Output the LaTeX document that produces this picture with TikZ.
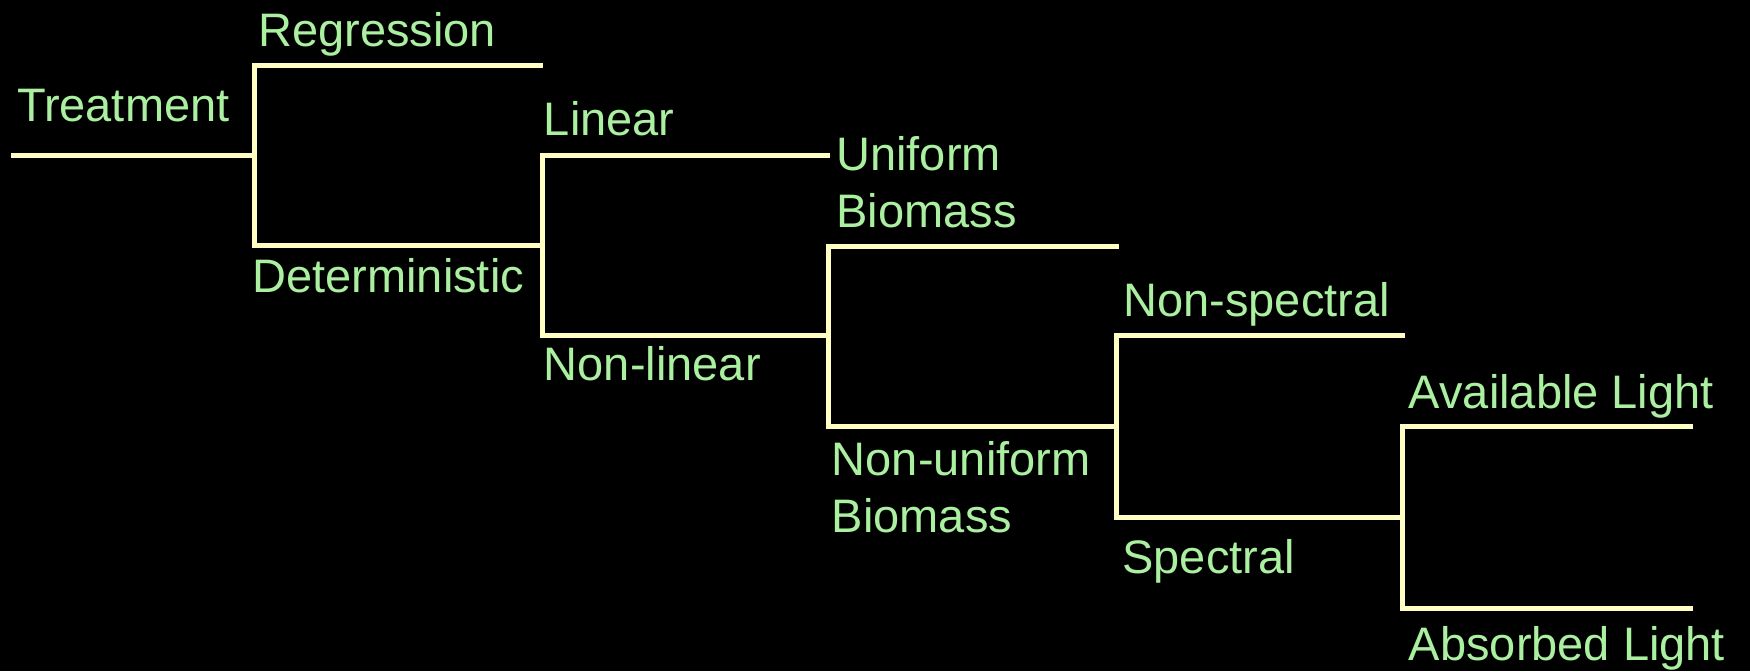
\documentclass[tikz,border=0pt]{standalone}
\usepackage{fontspec}
\setmainfont{Liberation Sans}
\definecolor{linecol}{RGB}{255,255,195}
\definecolor{txtcol}{RGB}{170,240,160}
\begin{document}
\begin{tikzpicture}[x=0.5pt,y=-0.5pt,
  branch/.style={draw=linecol,line width=2.5pt,line cap=rect},
  lbl/.style={text=txtcol,inner sep=0pt,anchor=base west,align=left,
    font=\fontsize{23.5pt}{28.5pt}\selectfont}]
\fill[black] (0,0) rectangle (1750,671);
\useasboundingbox (0,0) rectangle (1750,671);
% junction coordinates
\coordinate (root) at (13,155.5);
\coordinate (j1) at (254,155.5);
\coordinate (reg) at (540,65);
\coordinate (det0) at (254,65);
\coordinate (det1) at (254,245);
\coordinate (j2) at (542.5,245);
\coordinate (lin0) at (542.5,155);
\coordinate (lin) at (827,155);
\coordinate (nl0) at (542.5,335);
\coordinate (j3) at (828,335);
\coordinate (ub0) at (828,246.5);
\coordinate (ub) at (1116,246.5);
\coordinate (nub0) at (828,426);
\coordinate (j4) at (1116,426);
\coordinate (ns0) at (1116,335);
\coordinate (ns) at (1402,335);
\coordinate (sp0) at (1116,517);
\coordinate (j5) at (1402,517);
\coordinate (al0) at (1402,426);
\coordinate (al) at (1690,426);
\coordinate (ab0) at (1402,608);
\coordinate (ab) at (1690,608);
% connectors
\draw[branch] (root) -- (j1);
\draw[branch] (reg) -- (det0) -- (det1) -- (j2);
\draw[branch] (lin) -- (lin0) -- (nl0) -- (j3);
\draw[branch] (ub) -- (ub0) -- (nub0) -- (j4);
\draw[branch] (ns) -- (ns0) -- (sp0) -- (j5);
\draw[branch] (al) -- (al0) -- (ab0) -- (ab);
% labels
\node[lbl] (tTreat) at (16.7,121) {Treatment};
\node[lbl] (tReg) at (258,46) {Regression};
\node[lbl] (tDet) at (252,292) {Deterministic};
\node[lbl] (tLin) at (543.5,135.5) {Linear};
\node[lbl] (tNl) at (543.5,380) {Non-linear};
\node[lbl] (tUb) at (836,227.5) {Uniform\\Biomass};
\node[lbl] (tNub) at (831.5,532) {Non-uniform\\Biomass};
\node[lbl] (tNs) at (1123,316) {Non-spectral};
\node[lbl] (tSp) at (1122,573) {Spectral};
\node[lbl] (tAl) at (1408.5,408) {Available Light};
\node[lbl] (tAb) at (1408.5,660) {Absorbed Light};
\end{tikzpicture}
\end{document}
